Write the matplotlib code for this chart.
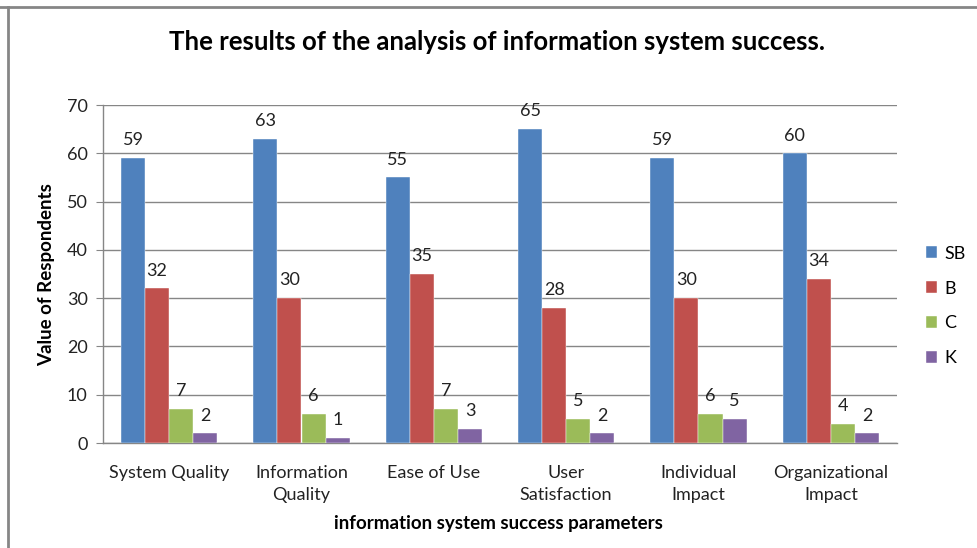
import matplotlib.pyplot as plt
import numpy as np

plt.rcParams['font.family'] = ['Lato', 'DejaVu Sans']

categories = ['System Quality', 'Information\nQuality', 'Ease of Use',
              'User\nSatisfaction', 'Individual\nImpact', 'Organizational\nImpact']
series_names = ['SB', 'B', 'C', 'K']
sb = [59, 63, 55, 65, 59, 60]
b = [32, 30, 35, 28, 30, 34]
c = [7, 6, 7, 5, 6, 4]
k = [2, 1, 3, 2, 5, 2]
colors = ['#4F81BD', '#C0504D', '#9BBB59', '#8064A2']

fig = plt.figure(figsize=(9.77, 5.48), dpi=100)
ax = fig.add_axes([103 / 977, 1 - 443 / 548, 794 / 977, 338 / 548])

x = np.arange(len(categories))
w = 0.182
for i, (vals, name) in enumerate(zip([sb, b, c, k], series_names)):
    pos = x + (i - 1.5) * w
    ax.bar(pos, vals, w, color=colors[i], label=name, zorder=3,
           edgecolor='white', linewidth=0.3)
    for p, v in zip(pos, vals):
        ax.annotate(str(v), (p, v), xytext=(0, 7), textcoords='offset points',
                    ha='center', va='bottom', fontsize=13, color='#222222')

ax.set_xlim(-0.5, len(categories) - 0.5)
ax.set_ylim(0, 70)
ax.set_yticks(range(0, 71, 10))
ax.set_xticks(x)
ax.set_xticklabels(categories, fontsize=13, linespacing=1.45, color='#222222')
ax.tick_params(axis='y', labelsize=13, length=5, color='#868686', pad=6,
               labelcolor='#222222')
ax.tick_params(axis='x', length=0, pad=16)
ax.grid(axis='y', color='#868686', linewidth=1, zorder=0)
for s in ['top', 'right']:
    ax.spines[s].set_visible(False)
for s in ['left', 'bottom']:
    ax.spines[s].set_color('#868686')
    ax.spines[s].set_linewidth(1)

fig.text(47 / 977, 1 - 275 / 548, 'Value of Respondents', rotation=90,
         ha='center', va='center', fontsize=13.5, fontweight='bold')
fig.text(498 / 977, 1 - 523 / 548, 'information system success parameters',
         ha='center', va='center', fontsize=13.5, fontweight='bold')
fig.text(497 / 977, 1 - 42 / 548, 'The results of the analysis of information system success.',
         ha='center', va='center', fontsize=18.5, fontweight='bold')

handles, labels = ax.get_legend_handles_labels()
fig.legend(handles, labels, loc='center left', bbox_to_anchor=(926 / 977, 1 - 306 / 548),
           frameon=False, fontsize=13, handlelength=0.6, handleheight=0.6,
           labelspacing=1.05, handletextpad=0.4, borderaxespad=0, borderpad=0)

# chart border
fig.add_artist(plt.Line2D([0, 1], [1 - 7 / 548] * 2, color='#868686', lw=2,
                          transform=fig.transFigure))
fig.add_artist(plt.Line2D([8 / 977] * 2, [0, 1 - 7 / 548], color='#868686', lw=2,
                          transform=fig.transFigure))

fig.savefig('out.png', dpi=100)
